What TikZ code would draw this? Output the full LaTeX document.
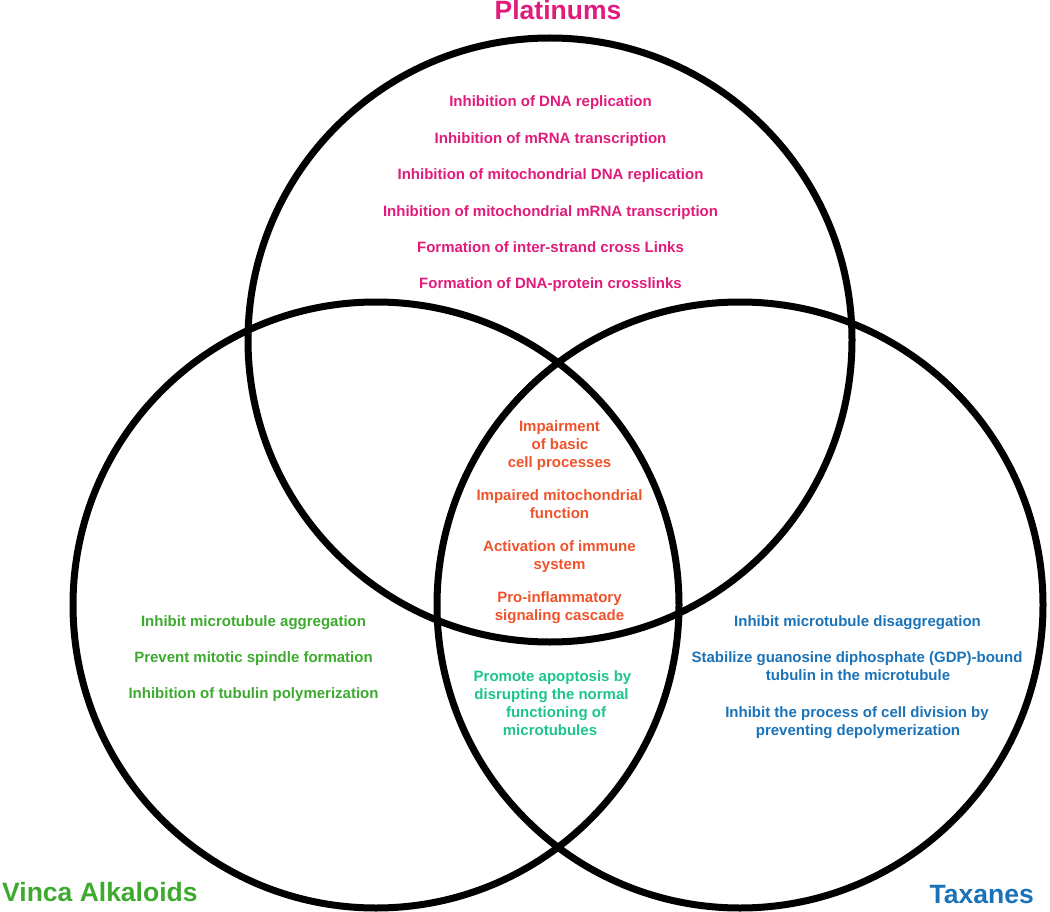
\documentclass[tikz,border=0pt]{standalone}
\usepackage{fontspec}
\setmainfont{Liberation Sans}
\definecolor{pinkc}{HTML}{E01B7B}
\definecolor{orangec}{HTML}{F0522A}
\definecolor{greenc}{HTML}{3DAA2F}
\definecolor{tealc}{HTML}{1DC48C}
\definecolor{bluec}{HTML}{1A73B8}
\tikzset{
  ring/.style={draw=black, line width=7pt},
  lbl/.style={inner sep=0pt, anchor=base, font=\fontsize{15}{18}\selectfont\bfseries},
  ttl/.style={inner sep=0pt, anchor=base, font=\fontsize{26.5}{30}\selectfont\bfseries},
  pk/.style={lbl, text=pinkc},
  og/.style={lbl, text=orangec},
  gr/.style={lbl, text=greenc},
  tl/.style={lbl, text=tealc},
  bl/.style={lbl, text=bluec},
}
\begin{document}
\begin{tikzpicture}[x=1pt, y=-1pt]
\useasboundingbox (0,0) rectangle (1050,912);
% circles
\coordinate (ctop) at (550,340);
\coordinate (cleft) at (376,605);
\coordinate (cright) at (740,605);
\draw[ring] (ctop) circle[radius=302];
\draw[ring] (cleft) circle[radius=303];
\draw[ring] (cright) circle[radius=303];
% titles
\node[ttl, text=pinkc] (tplat) at (558,20) {Platinums};
\node[ttl, text=greenc, anchor=base west] (tvinca) at (2,901) {Vinca Alkaloids};
\node[ttl, text=bluec, anchor=base east] (ttax) at (1034,903) {Taxanes};
% platinums
\node[pk] (p1) at (550.5,107) {Inhibition of DNA replication};
\node[pk] (p2) at (550.5,143.5) {Inhibition of mRNA transcription};
\node[pk] (p3) at (550.5,180) {Inhibition of mitochondrial DNA replication};
\node[pk] (p4) at (550.5,216.5) {Inhibition of mitochondrial mRNA transcription};
\node[pk] (p5) at (550.5,252.5) {Formation of inter-strand cross Links};
\node[pk] (p6) at (550.5,289) {Formation of DNA-protein crosslinks};
% center
\node[og] (o1) at (559.5,431) {Impairment};
\node[og] (o2) at (560,449) {of basic};
\node[og] (o3) at (559.5,467) {cell processes};
\node[og] (o4) at (559.5,500.5) {Impaired mitochondrial};
\node[og] (o5) at (559.5,518.5) {function};
\node[og] (o6) at (559.5,551) {Activation of immune};
\node[og] (o7) at (559.5,569) {system};
\node[og] (o8) at (559.5,602.5) {Pro-inflammatory};
\node[og] (o9) at (559.5,620.5) {signaling cascade};
% vinca
\node[gr] (g1) at (253.5,626) {Inhibit microtubule aggregation};
\node[gr] (g2) at (253.5,662.5) {Prevent mitotic spindle formation};
\node[gr] (g3) at (253.5,698) {Inhibition of tubulin polymerization};
% vinca-taxanes
\node[tl] (t1) at (552.5,681.5) {Promote apoptosis by};
\node[tl] (t2) at (551.5,699.5) {disrupting the normal};
\node[tl] (t3) at (556,717.5) {functioning of};
\node[tl] (t4) at (550,735.5) {microtubules};
% taxanes
\node[bl] (b1) at (857.5,626) {Inhibit microtubule disaggregation};
\node[bl] (b2) at (857,662) {Stabilize guanosine diphosphate (GDP)-bound};
\node[bl] (b3) at (858,680.5) {tubulin in the microtubule};
\node[bl] (b4) at (857,717) {Inhibit the process of cell division by};
\node[bl] (b5) at (858,735.5) {preventing depolymerization};
\end{tikzpicture}
\end{document}
